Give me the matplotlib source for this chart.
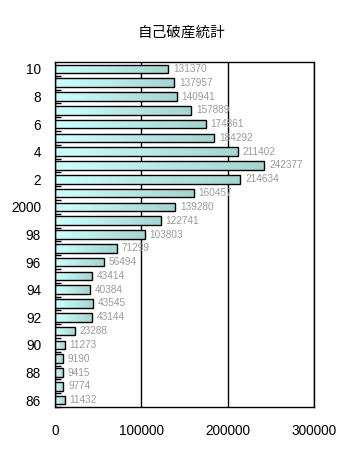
import matplotlib
matplotlib.use("Agg")
import matplotlib.pyplot as plt
import numpy as np
from matplotlib.colors import LinearSegmentedColormap

plt.rcParams['font.family'] = ['Liberation Sans', 'Noto Sans CJK JP', 'DejaVu Sans']

years = ["86", "87", "88", "89", "90", "91", "92", "93", "94", "95", "96", "97", "98", "99",
         "2000", "1", "2", "3", "4", "5", "6", "7", "8", "9", "10"]
values = [11432, 9774, 9415, 9190, 11273, 23288, 43144, 43545, 40384, 43414, 56494, 71299,
          103803, 122741, 139280, 160457, 214634, 242377, 211402, 184292, 174861, 157889,
          140941, 137957, 131370]
shown_labels = ["86", "88", "90", "92", "94", "96", "98", "2000", "2", "4", "6", "8", "10"]
title = "自己破産統計"

fig = plt.figure(figsize=(3.64, 4.68), dpi=100)
ax = fig.add_axes([55/364, 1 - 407/468, (314-55)/364, (407-62)/468])

pos = np.arange(len(years))
bars = ax.barh(pos, values, height=0.62, color='none', edgecolor='black', linewidth=1.0, zorder=3)
cmap = LinearSegmentedColormap.from_list('g', ['#ccffff', '#a6d4d0'])
grad = np.linspace(0, 1, 256).reshape(1, -1)
for b in bars:
    x0, y0 = b.get_x(), b.get_y()
    w, h = b.get_width(), b.get_height()
    im = ax.imshow(grad, cmap=cmap, extent=[x0, x0 + w, y0, y0 + h], aspect='auto', zorder=2)
    im.set_clip_path(b)

for p, v in zip(pos, values):
    ax.text(v + 5500, p, str(v), va='center', ha='left', fontsize=7.2, color='#9a9a9a',
            zorder=4)

ax.set_xlim(0, 300000)
ax.set_ylim(-0.5, len(years) - 0.5)
ax.set_xticks([0, 100000, 200000, 300000])
ax.set_xticklabels(['0', '100000', '200000', '300000'], fontsize=9.8)
ax.tick_params(axis='x', length=0, pad=12)
ax.xaxis.grid(True, color='black', linewidth=1.0, zorder=1)
ax.set_axisbelow(True)

major = [years.index(l) for l in shown_labels]
ax.set_yticks(major)
ax.set_yticklabels(shown_labels, fontsize=9.8)
ax.set_yticks(np.arange(len(years)) - 0.5, minor=True)
ax.tick_params(axis='y', which='major', length=0, pad=10)
ax.tick_params(axis='y', which='minor', length=4, direction='in', width=1.0)

for s in ax.spines.values():
    s.set_linewidth(1.0)

fig.text(0.5, 1 - 33/468, title, ha='center', va='center', fontsize=10.5,
         family=['Noto Sans CJK JP', 'DejaVu Sans'])

fig.savefig("out.png", dpi=100)
